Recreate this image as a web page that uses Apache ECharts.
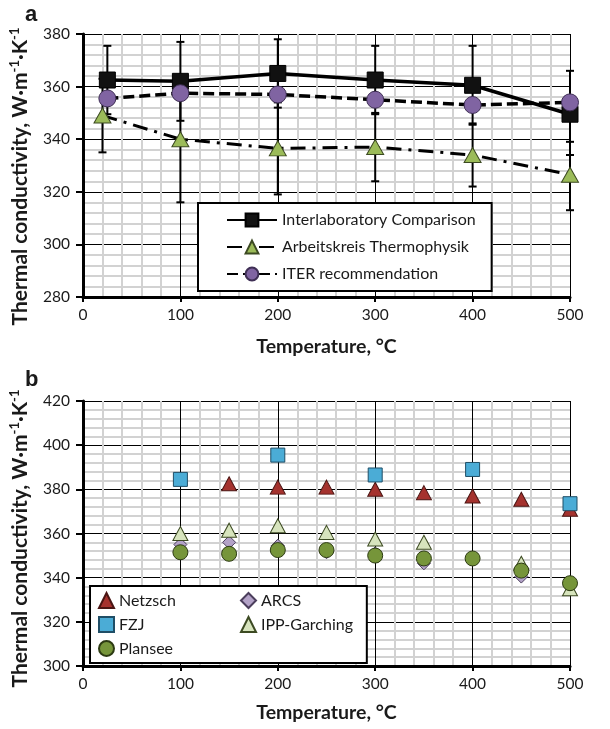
<!DOCTYPE html>
<html>
<head>
<meta charset="utf-8">
<script src="https://cdn.jsdelivr.net/npm/echarts@6/dist/echarts.min.js"></script>
<style>
html,body{margin:0;padding:0;background:#fff;}
#chart{width:610px;height:729px;}
</style>
</head>
<body>
<div id="chart"></div>
<script>
// ---------- DATA (panel a) ----------
const tempA  = [25, 100, 200, 300, 400, 500];
const tempAK = [20, 100, 200, 300, 400, 500];
const interlab     = [362.5, 362, 365, 362.5, 360.5, 349.5];
const interlabLow  = [349.5, 347, 352, 349.5, 345.5, 334];
const interlabHigh = [375.5, 377, 378, 375.5, 375.5, 366];
const akValues     = [349, 340, 336.5, 337, 334, 326.5];
const akLow        = [335, 316, 319, 324, 322, 313];
const akHigh       = [363, 364, 354, 350, 346, 339];
const iterValues   = [355.5, 357.5, 357, 355, 353, 354];
const ticksA = {min: 280, max: 380, interval: 20};

// ---------- DATA (panel b) ----------
const tempB   = [100, 150, 200, 250, 300, 350, 400, 450, 500];
const netzsch = [null, 382.5, 381, 381, 380, 378.5, 377, 375.5, 371];
const fzj     = [384.5, null, 395.5, null, 386.5, null, 389, null, 373.5];
const arcs    = [355, 356, 354.5, 351.5, 351, 346.5, 348.5, 340.5, null];
const ipp     = [360, 361.5, 363.5, 360.5, 357.5, 356, null, 346.5, 335];
const plansee = [351.5, 350.8, 352.5, 352.5, 350, 348.7, 348.7, 343.2, 337.5];
const ticksB = {min: 300, max: 420, interval: 20};
const ticksX = {min: 0, max: 500, interval: 100};

const seriesNamesA = ['Interlaboratory Comparison', 'Arbeitskreis Thermophysik', 'ITER recommendation'];
const seriesNamesB = ['Netzsch', 'FZJ', 'ARCS', 'IPP-Garching', 'Plansee'];

// ---------- helpers ----------
const pair = (xs, ys) => xs.map((x, i) => [x, ys[i]]);
const FONT = 'Lato';
const yTitle = 'Thermal conductivity, W·m{sup|-1}·K{sup|-1}';

function errBars(xs, lo, hi) {
  return xs.map((x, i) => [x, lo[i], hi[i]]);
}
function renderErr(params, api) {
  const x = api.value(0);
  const a = api.coord([x, api.value(1)]);
  const b = api.coord([x, api.value(2)]);
  const cw = 4;
  const st = {stroke: '#000', lineWidth: 2};
  return {type: 'group', children: [
    {type: 'line', shape: {x1: a[0], y1: a[1], x2: b[0], y2: b[1]}, style: st},
    {type: 'line', shape: {x1: a[0] - cw, y1: a[1], x2: a[0] + cw, y2: a[1]}, style: st},
    {type: 'line', shape: {x1: b[0] - cw, y1: b[1], x2: b[0] + cw, y2: b[1]}, style: st}
  ]};
}

function xAxisDef(gridIndex, nameGap) {
  return {
    type: 'value', gridIndex: gridIndex, min: ticksX.min, max: ticksX.max, interval: ticksX.interval,
    name: 'Temperature, °C', nameLocation: 'middle', nameGap: nameGap,
    nameTextStyle: {fontFamily: FONT, fontWeight: 'bold', fontSize: 19.5, color: '#1a1a1a'},
    axisLine: {show: true, onZero: false, lineStyle: {color: '#000', width: 3}},
    axisTick: {show: true, length: 5, lineStyle: {color: '#000', width: 2}},
    axisLabel: {fontFamily: FONT, fontSize: 15.5, color: '#1a1a1a', margin: 10},
    splitLine: {show: true, lineStyle: {color: '#000', width: 1}},
    minorTick: {show: false, splitNumber: 5},
    minorSplitLine: {show: true, lineStyle: {color: '#d2d2d2', width: 2}}
  };
}
function yAxisDef(gridIndex, t, shift) {
  return {
    type: 'value', gridIndex: gridIndex, min: t.min, max: t.max, interval: t.interval,
    name: yTitle, nameLocation: 'middle', nameRotate: 90, nameGap: 49,
    nameTextStyle: {fontFamily: FONT, fontWeight: 'bold', fontSize: 21, color: '#1a1a1a', lineHeight: 24,
      padding: [0, shift, 0, 0],
      rich: {sup: {fontFamily: FONT, fontWeight: 'bold', fontSize: 13, color: '#1a1a1a', verticalAlign: 'top', lineHeight: 24, padding: [0, 0, 11, 0]}}},
    axisLine: {show: true, lineStyle: {color: '#000', width: 3}},
    axisTick: {show: true, length: 7, lineStyle: {color: '#000', width: 2}},
    axisLabel: {fontFamily: FONT, fontSize: 15.5, color: '#1a1a1a', margin: 13},
    splitLine: {show: true, lineStyle: {color: '#000', width: 1}},
    minorTick: {show: false, splitNumber: 5},
    minorSplitLine: {show: true, lineStyle: {color: '#d2d2d2', width: 2}}
  };
}

const chart = echarts.init(document.getElementById('chart'), null, {renderer: 'canvas'});
const option = {
  animation: false,
  backgroundColor: '#fff',
  title: [
    {text: 'a', left: 20, top: -1, textStyle: {fontFamily: 'Liberation Sans', fontWeight: 'bold', fontSize: 22, color: '#1a1a1a'}},
    {text: 'b', left: 20, top: 364, textStyle: {fontFamily: 'Liberation Sans', fontWeight: 'bold', fontSize: 22, color: '#1a1a1a'}}
  ],
  grid: [
    {left: 83, right: 40, top: 34, height: 263},
    {left: 83, right: 40, top: 401, height: 265}
  ],
  xAxis: [xAxisDef(0, 40), xAxisDef(1, 37)],
  yAxis: [yAxisDef(0, ticksA, 22), yAxisDef(1, ticksB, 10)],
  legend: [
    {
      data: seriesNamesA, orient: 'vertical', left: 198, top: 203,
      backgroundColor: '#fff', borderColor: '#000', borderWidth: 2, borderRadius: 0,
      padding: [9, 16, 9, 28], itemGap: 11, itemWidth: 50, itemHeight: 16,
      textStyle: {fontFamily: FONT, fontSize: 16, color: '#1a1a1a'}
    },
    {
      data: ['Netzsch', 'FZJ', 'Plansee'], orient: 'vertical', left: 90, top: 586,
      backgroundColor: '#fff', borderColor: '#000', borderWidth: 2, borderRadius: 0,
      padding: [6, 191, 6, 8], itemGap: 7, itemWidth: 15, itemHeight: 15,
      textStyle: {fontFamily: FONT, fontSize: 16, color: '#1a1a1a'}
    },
    {
      data: ['ARCS', 'IPP-Garching'], orient: 'vertical', left: 236, top: 586,
      padding: [6, 4, 6, 4], itemGap: 7, itemWidth: 15, itemHeight: 15,
      textStyle: {fontFamily: FONT, fontSize: 16, color: '#1a1a1a'}
    }
  ],
  series: [
    // error bars (panel a)
    {type: 'custom', xAxisIndex: 0, yAxisIndex: 0, z: 1, silent: true,
     data: errBars(tempA, interlabLow, interlabHigh), renderItem: renderErr},
    {type: 'custom', xAxisIndex: 0, yAxisIndex: 0, z: 1, silent: true,
     data: errBars(tempAK, akLow, akHigh), renderItem: renderErr},
    {
      name: seriesNamesA[0], type: 'line', xAxisIndex: 0, yAxisIndex: 0, z: 3,
      data: pair(tempA, interlab), symbol: 'rect', symbolSize: 16,
      lineStyle: {color: '#000', width: 3.5},
      itemStyle: {color: '#111', borderColor: '#000', borderWidth: 1}
    },
    {
      name: seriesNamesA[1], type: 'line', xAxisIndex: 0, yAxisIndex: 0, z: 4,
      data: pair(tempAK, akValues), symbol: 'triangle', symbolSize: [17, 15],
      lineStyle: {color: '#000', width: 3, type: [15, 7, 3, 7]},
      itemStyle: {color: '#9bbb59', borderColor: '#3c4a22', borderWidth: 1}
    },
    {
      name: seriesNamesA[2], type: 'line', xAxisIndex: 0, yAxisIndex: 0, z: 5,
      data: pair(tempA, iterValues), symbol: 'circle', symbolSize: 17,
      lineStyle: {color: '#000', width: 3.5, type: [11, 5]},
      itemStyle: {color: '#8064a2', borderColor: '#3f2f55', borderWidth: 1}
    },
    // panel b
    {
      name: 'Netzsch', type: 'scatter', xAxisIndex: 1, yAxisIndex: 1, z: 3,
      data: pair(tempB, netzsch), symbol: 'triangle', symbolSize: [15, 14],
      itemStyle: {color: '#a5322e', borderColor: '#4a1513', borderWidth: 1, opacity: 1}
    },
    {
      name: 'FZJ', type: 'scatter', xAxisIndex: 1, yAxisIndex: 1, z: 4,
      data: pair(tempB, fzj), symbol: 'rect', symbolSize: 14,
      itemStyle: {color: '#4bacd6', borderColor: '#1f4e66', borderWidth: 1, opacity: 1}
    },
    {
      name: 'ARCS', type: 'scatter', xAxisIndex: 1, yAxisIndex: 1, z: 5,
      data: pair(tempB, arcs), symbol: 'diamond', symbolSize: 13,
      itemStyle: {color: '#b3a2c7', borderColor: '#4b3e5c', borderWidth: 1, opacity: 1}
    },
    {
      name: 'IPP-Garching', type: 'scatter', xAxisIndex: 1, yAxisIndex: 1, z: 6,
      data: pair(tempB, ipp), symbol: 'triangle', symbolSize: [15, 14],
      itemStyle: {color: '#d7e4bd', borderColor: '#3c4a22', borderWidth: 1, opacity: 1}
    },
    {
      name: 'Plansee', type: 'scatter', xAxisIndex: 1, yAxisIndex: 1, z: 7,
      data: pair(tempB, plansee), symbol: 'circle', symbolSize: 15,
      itemStyle: {color: '#76953a', borderColor: '#2c3a12', borderWidth: 1, opacity: 1}
    }
  ]
};
chart.setOption(option);
</script>
</body>
</html>
